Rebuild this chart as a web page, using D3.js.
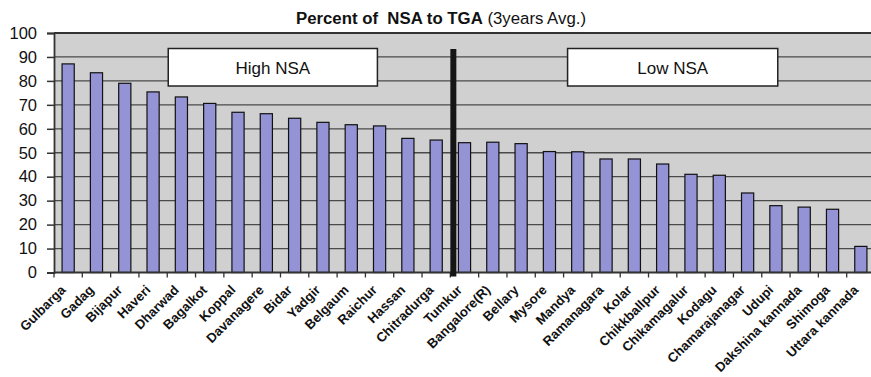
<!DOCTYPE html>
<html>
<head>
<meta charset="utf-8">
<script src="https://cdn.jsdelivr.net/npm/d3@7"></script>
<style>
  html, body { margin: 0; padding: 0; background: #fff; }
  svg { display: block; font-family: "Liberation Sans", Arial, sans-serif; }
</style>
</head>
<body>
<svg id="chart" width="871" height="377"></svg>
<script>
const categories = ["Gulbarga","Gadag","Bijapur","Haveri","Dharwad","Bagalkot","Koppal","Davanagere","Bidar","Yadgir","Belgaum","Raichur","Hassan","Chitradurga","Tumkur","Bangalore(R)","Bellary","Mysore","Mandya","Ramanagara","Kolar","Chikkballpur","Chikamagalur","Kodagu","Chamarajanagar","Udupi","Dakshina kannada","Shimoga","Uttara kannada"];
const values = [87.1,83.4,79.0,75.4,73.3,70.6,66.9,66.3,64.4,62.7,61.7,61.2,56.0,55.3,54.2,54.4,53.8,50.5,50.4,47.4,47.4,45.3,41.0,40.6,33.2,27.9,27.3,26.4,10.9];
const yTicks = [0,10,20,30,40,50,60,70,80,90,100];
const groupLabels = ["High NSA","Low NSA"];
const dividerAfter = "Chitradurga";
const titleBold = "Percent of  NSA to TGA";
const titleNormal = " (3years Avg.)";

const svg = d3.select("#chart");
const pLeft = 54, pRight = 875, pTop = 33, pBottom = 272.5;

const x = d3.scaleBand().domain(categories).range([pLeft, pRight]).padding(0);
const y = d3.scaleLinear().domain([0, 100]).range([pBottom, pTop]);

// plot background
svg.append("rect").attr("x", pLeft).attr("y", pTop)
  .attr("width", pRight - pLeft).attr("height", pBottom - pTop)
  .attr("fill", "#d0d0d0");

// gridlines
svg.append("g").selectAll("line").data(yTicks.filter(d => d > 0 && d < 100)).join("line")
  .attr("x1", pLeft).attr("x2", pRight)
  .attr("y1", d => y(d)).attr("y2", d => y(d))
  .attr("stroke", "#4a4a4a").attr("stroke-width", 1.3);

// top border
svg.append("line").attr("x1", pLeft).attr("x2", pRight)
  .attr("y1", y(100)).attr("y2", y(100))
  .attr("stroke", "#333").attr("stroke-width", 2);

// bars
const bw = x.bandwidth() * 0.43;
svg.append("g").selectAll("rect").data(values).join("rect")
  .attr("x", (d, i) => x(categories[i]) + (x.bandwidth() - bw) / 2)
  .attr("y", d => y(d))
  .attr("width", bw)
  .attr("height", d => y(0) - y(d))
  .attr("fill", "#9393d6")
  .attr("stroke", "#111").attr("stroke-width", 1.2);

// y axis
const yAxis = svg.append("g").attr("transform", `translate(${pLeft},0)`)
  .call(d3.axisLeft(y).tickValues(yTicks).tickSize(7).tickPadding(10).tickFormat(d3.format("d")));
yAxis.select(".domain").attr("stroke", "#333").attr("stroke-width", 1.8);
yAxis.selectAll(".tick line").attr("stroke", "#333").attr("stroke-width", 1.5);
yAxis.selectAll("text").attr("font-size", 16.5).attr("fill", "#111")
  .attr("font-family", "'Liberation Sans', Arial, sans-serif");

// x axis line + ticks at boundaries
const boundaries = categories.map(c => x(c)).concat([pRight]);
svg.append("g").selectAll("line").data(boundaries).join("line")
  .attr("x1", d => d).attr("x2", d => d)
  .attr("y1", pBottom).attr("y2", pBottom + 5)
  .attr("stroke", "#333").attr("stroke-width", 1.3);
svg.append("line").attr("x1", pLeft).attr("x2", pRight)
  .attr("y1", pBottom).attr("y2", pBottom)
  .attr("stroke", "#333").attr("stroke-width", 1.8);

// x labels
svg.append("g").selectAll("text").data(categories).join("text")
  .attr("transform", c => `translate(${x(c) + x.bandwidth() / 2 - 5},${pBottom + 15}) rotate(-45)`)
  .attr("text-anchor", "end")
  .attr("dy", "0.35em")
  .attr("font-size", 13.2).attr("font-weight", "bold").attr("fill", "#111")
  .text(c => c);

// divider line
const divX = x(dividerAfter) + x.bandwidth() + 3;
svg.append("line").attr("x1", divX).attr("x2", divX)
  .attr("y1", 49).attr("y2", pBottom + 4)
  .attr("stroke", "#151515").attr("stroke-width", 6);

// group label boxes
const boxes = [
  {label: groupLabels[0], x0: x("Dharwad") + 1, x1: x("Raichur") + 12},
  {label: groupLabels[1], x0: x("Mandya") + 4, x1: x("Udupi") + 16}
];
boxes.forEach(b => {
  svg.append("rect").attr("x", b.x0).attr("y", 48.5)
    .attr("width", b.x1 - b.x0).attr("height", 37.5)
    .attr("fill", "#fff").attr("stroke", "#222").attr("stroke-width", 1.5);
  svg.append("text").attr("x", (b.x0 + b.x1) / 2).attr("y", 74)
    .attr("text-anchor", "middle").attr("font-size", 17).attr("fill", "#111")
    .text(b.label);
});

// title
const title = svg.append("text").attr("x", 441).attr("y", 23.5)
  .attr("text-anchor", "middle").attr("fill", "#111")
  .style("white-space", "pre");
title.append("tspan").attr("font-weight", "bold").attr("font-size", 16.8).text(titleBold);
title.append("tspan").attr("font-size", 16.8).text(titleNormal);
</script>
</body>
</html>
